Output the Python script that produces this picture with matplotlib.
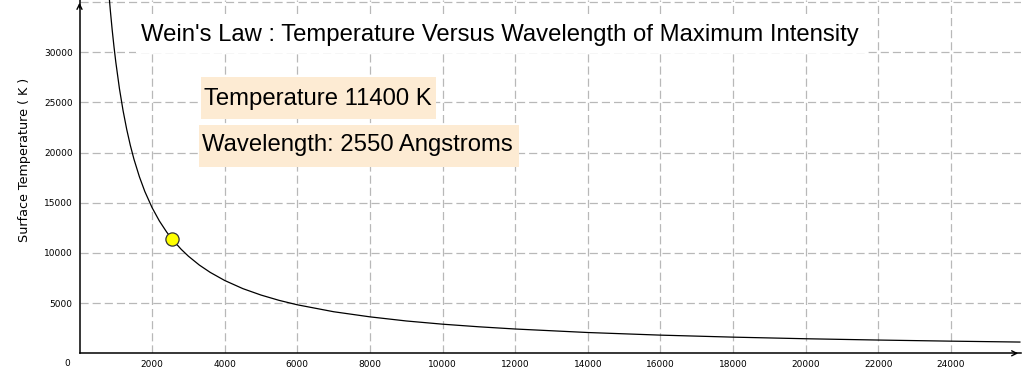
import matplotlib
matplotlib.use("Agg")
import matplotlib.pyplot as plt
from matplotlib.patches import Rectangle

# ---- data ----
wavelength = [820, 850, 900, 950, 1000, 1100, 1200, 1300, 1400, 1500, 1650, 1800,
              2000, 2200, 2400, 2550, 2800, 3000, 3300, 3600, 4000, 4500, 5000,
              5500, 6000, 7000, 8000, 9000, 10000, 11000, 12000, 14000, 16000,
              18000, 20000, 22000, 24000, 25900]
temperature = [35370, 34120, 32220, 30530, 29000, 26360, 24170, 22310, 20710, 19330,
               17580, 16110, 14500, 13180, 12080, 11370, 10360, 9670, 8790, 8060,
               7250, 6440, 5800, 5270, 4830, 4140, 3630, 3220, 2900, 2640, 2420,
               2070, 1810, 1610, 1450, 1320, 1210, 1120]
point_wavelength = [2550]
point_temperature = [11400]
x_ticks = [2000, 4000, 6000, 8000, 10000, 12000, 14000, 16000, 18000, 20000, 22000, 24000]
y_ticks = [5000, 10000, 15000, 20000, 25000, 30000]
y_grid = y_ticks + [35000]

title = "Wein's Law : Temperature Versus Wavelength of Maximum Intensity"
box_temperature = "Temperature 11400 K"
box_wavelength = "Wavelength: 2550 Angstroms"
y_label = "Surface Temperature ( K )"

W, H = 1024, 380
fig = plt.figure(figsize=(W / 100, H / 100), dpi=100)
fig.patch.set_facecolor("white")

x0, x1 = 79.5, 1021.0
ybot = 353.3
ax = fig.add_axes([x0 / W, (H - ybot) / H, (x1 - x0) / W, ybot / H])
ax.set_xlim(0, 25930)
ax.set_ylim(0, 35190)

for s in ["top", "right"]:
    ax.spines[s].set_visible(False)
for s in ["left", "bottom"]:
    ax.spines[s].set_color("black")
    ax.spines[s].set_linewidth(1.1)

# grid
grid_color = "#b8b8b8"
for xv in x_ticks:
    ax.axvline(xv, color=grid_color, lw=0.9, ls=(0, (6.5, 3.2)), zorder=0)
for yv in y_grid:
    ax.axhline(yv, color=grid_color, lw=0.9, ls=(0, (6.5, 3.2)), zorder=0)

ax.set_xticks(x_ticks)
ax.set_yticks(y_ticks)
ax.set_xticklabels([str(v) for v in x_ticks])
ax.set_yticklabels([str(v) for v in y_ticks])
ax.tick_params(length=0, labelsize=6.5, labelcolor="black")
ax.tick_params(axis="x", pad=5)
ax.tick_params(axis="y", pad=5)
for lab in ax.get_xticklabels() + ax.get_yticklabels():
    lab.set_family("DejaVu Sans")
ax.text(-0.0098, -0.028, "0", transform=ax.transAxes, ha="right", va="center",
        fontsize=6.5, family="DejaVu Sans")

# arrows at axis ends
ax.annotate("", xy=(1.0, 0), xytext=(0.99, 0), xycoords="axes fraction",
            arrowprops=dict(arrowstyle="->", lw=1.0, color="black",
                            mutation_scale=9), annotation_clip=False)
ax.annotate("", xy=(0, 1.0), xytext=(0, 0.97), xycoords="axes fraction",
            arrowprops=dict(arrowstyle="->", lw=1.0, color="black",
                            mutation_scale=9), annotation_clip=False)

# curve and point
ax.plot(wavelength, temperature, color="black", lw=0.9, zorder=3)
ax.plot(point_wavelength, point_temperature, "o", ms=9.5, mfc="#ffff00",
        mec="#333333", mew=0.9, zorder=4)

fig.text(25 / W, 1 - 160 / H, y_label, rotation=90, ha="center", va="center",
         fontsize=9.2, family="DejaVu Sans")


def px_rect(xa, ya, xb, yb, color):
    fig.patches.append(Rectangle((xa / W, 1 - yb / H), (xb - xa) / W, (yb - ya) / H,
                                 transform=fig.transFigure, facecolor=color,
                                 edgecolor="none", zorder=1))


px_rect(136, 15, 868, 53, "white")
px_rect(201, 77, 436, 119, "#fdebd3")
px_rect(199, 125, 519, 167, "#fdebd3")

fig.text(499.5 / W, 1 - 35 / H, title, ha="center", va="center", fontsize=17.2,
         family="Liberation Sans", zorder=2)
fig.text(204.5 / W, 1 - 98.5 / H, box_temperature, ha="left", va="center",
         fontsize=17.2, family="Liberation Sans", zorder=2)
fig.text(202 / W, 1 - 145.5 / H, box_wavelength, ha="left", va="center",
         fontsize=17.2, family="Liberation Sans", zorder=2)

fig.savefig("out.png", dpi=100)
